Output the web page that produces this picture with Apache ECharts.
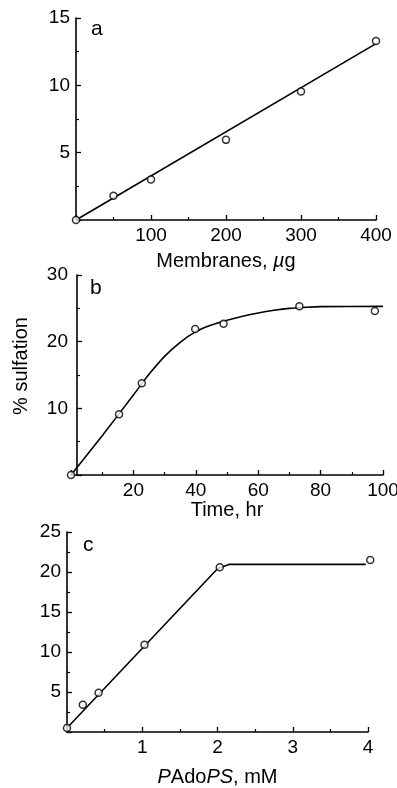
<!DOCTYPE html>
<html>
<head>
<meta charset="utf-8">
<script src="https://cdn.jsdelivr.net/npm/echarts@6/dist/echarts.min.js"></script>
<style>
  html, body { margin: 0; padding: 0; background: #fff; }
  #chart { width: 397px; height: 788px; }
</style>
</head>
<body>
<div id="chart"></div>
<script>
// panel a: membranes (ug) vs % sulfation
const membranesX = [0, 50, 100, 200, 300, 400];
const membranesY = [0, 1.8, 3.0, 5.95, 9.55, 13.3];
const membranesFitX = [0, 400];
const membranesFitY = [0, 13.1];

// panel b: time (hr) vs % sulfation
const timeX = [0, 15.4, 22.7, 39.8, 48.9, 73.2, 97.4];
const timeY = [0, 9.1, 13.75, 21.9, 22.7, 25.3, 24.6];
const timeFitX = [0, 10, 20, 25, 30, 35, 40, 45, 50, 55, 60, 65, 70, 75, 80, 100];
const timeFitY = [0, 5.9, 12.0, 15.1, 17.8, 19.9, 21.5, 22.5, 23.2, 23.8, 24.3, 24.7, 25.0, 25.15, 25.25, 25.3];

// panel c: PAdoPS (mM) vs % sulfation
const padopsX = [0, 0.21, 0.42, 1.03, 2.03, 4.03];
const padopsY = [0.5, 3.4, 4.9, 10.9, 20.6, 21.5];
const padopsFitX = [0, 2.0, 2.15, 3.97];
const padopsFitY = [0.5, 20.4, 20.95, 20.95];

// axis ranges: [min, max, interval]
const aXRange = [0, 400, 100];
const aYRange = [0, 15, 5];
const bXRange = [0, 100, 20];
const bYRange = [0, 30, 10];
const cXRange = [0, 4, 1];
const cYRange = [0, 25, 5];

const pairs = (xs, ys) => xs.map((x, i) => [x, ys[i]]);

const font = 'Liberation Sans, Arial, Helvetica, sans-serif';
const ink = '#000';

const axisBase = (range, idx) => ({
  type: 'value',
  gridIndex: idx,
  min: range[0],
  max: range[1],
  interval: range[2],
  splitLine: { show: false },
  axisLine: { show: true, lineStyle: { color: ink, width: 1.6 } },
  axisTick: { show: true, inside: true, length: 5, lineStyle: { color: ink, width: 1.3 } },
  minorTick: { show: true, splitNumber: 2, length: 3, lineStyle: { color: ink, width: 1.2 } },
  axisLabel: {
    showMinLabel: false,
    color: ink,
    fontFamily: font,
    fontSize: 19,
    margin: 6,
  },
  nameTextStyle: { color: ink, fontFamily: font, fontSize: 20 },
});

const pointSeries = (xs, ys, idx) => ({
  type: 'scatter',
  xAxisIndex: idx,
  yAxisIndex: idx,
  data: pairs(xs, ys),
  symbol: 'circle',
  symbolSize: 7,
  clip: false,
  z: 3,
  itemStyle: { color: '#fff', borderColor: ink, borderWidth: 1.5 },
});

const fitSeries = (xs, ys, idx, smooth) => ({
  type: 'line',
  xAxisIndex: idx,
  yAxisIndex: idx,
  data: pairs(xs, ys),
  smooth: smooth,
  showSymbol: false,
  z: 2,
  lineStyle: { color: ink, width: 1.6 },
});

const letterStyle = { fontFamily: font, fontSize: 21, color: ink, fontWeight: 'normal' };

const chart = echarts.init(document.getElementById('chart'));

const option = {
  animation: false,
  backgroundColor: '#fff',
  title: [
    { text: 'a', left: 86, top: 14, textStyle: letterStyle },
    { text: 'b', left: 85, top: 273, textStyle: letterStyle },
    { text: 'c', left: 78, top: 530, textStyle: letterStyle },
  ],
  grid: [
    { left: 76, right: 21, top: 18, height: 202, outerBoundsMode: 'none' },
    { left: 71, right: 14, top: 275, height: 200, outerBoundsMode: 'none' },
    { left: 67, right: 29, top: 532, height: 200, outerBoundsMode: 'none' },
  ],
  xAxis: [
    Object.assign(axisBase(aXRange, 0), {
      name: 'Membranes, {i|µ}g',
      nameLocation: 'middle',
      nameGap: 31,
      nameTextStyle: {
        color: ink, fontFamily: font, fontSize: 20,
        rich: { i: { fontStyle: 'italic', fontFamily: font, fontSize: 20, color: ink } },
      },
    }),
    Object.assign(axisBase(bXRange, 1), {
      name: 'Time, hr',
      nameLocation: 'middle',
      nameGap: 23,
    }),
    Object.assign(axisBase(cXRange, 2), {
      name: '{i|P}Ado{i|PS}, mM',
      nameLocation: 'middle',
      nameGap: 35,
      nameTextStyle: {
        color: ink, fontFamily: font, fontSize: 20,
        rich: { i: { fontStyle: 'italic', fontFamily: font, fontSize: 20, color: ink } },
      },
    }),
  ],
  yAxis: [
    axisBase(aYRange, 0),
    Object.assign(axisBase(bYRange, 1), {
      offset: -6,
      name: '% sulfation',
      nameLocation: 'middle',
      nameRotate: 90,
      nameGap: 46,
      nameTextStyle: { color: ink, fontFamily: font, fontSize: 20, padding: [0, 0, 0, 18] },
      axisLabel: { showMinLabel: false, color: ink, fontFamily: font, fontSize: 19, margin: 9 },
    }),
    axisBase(cYRange, 2),
  ],
  series: [
    fitSeries(membranesFitX, membranesFitY, 0, false),
    pointSeries(membranesX, membranesY, 0),
    fitSeries(timeFitX, timeFitY, 1, 0.3),
    pointSeries(timeX, timeY, 1),
    fitSeries(padopsFitX, padopsFitY, 2, false),
    pointSeries(padopsX, padopsY, 2),
  ],
};

chart.setOption(option);
</script>
</body>
</html>
